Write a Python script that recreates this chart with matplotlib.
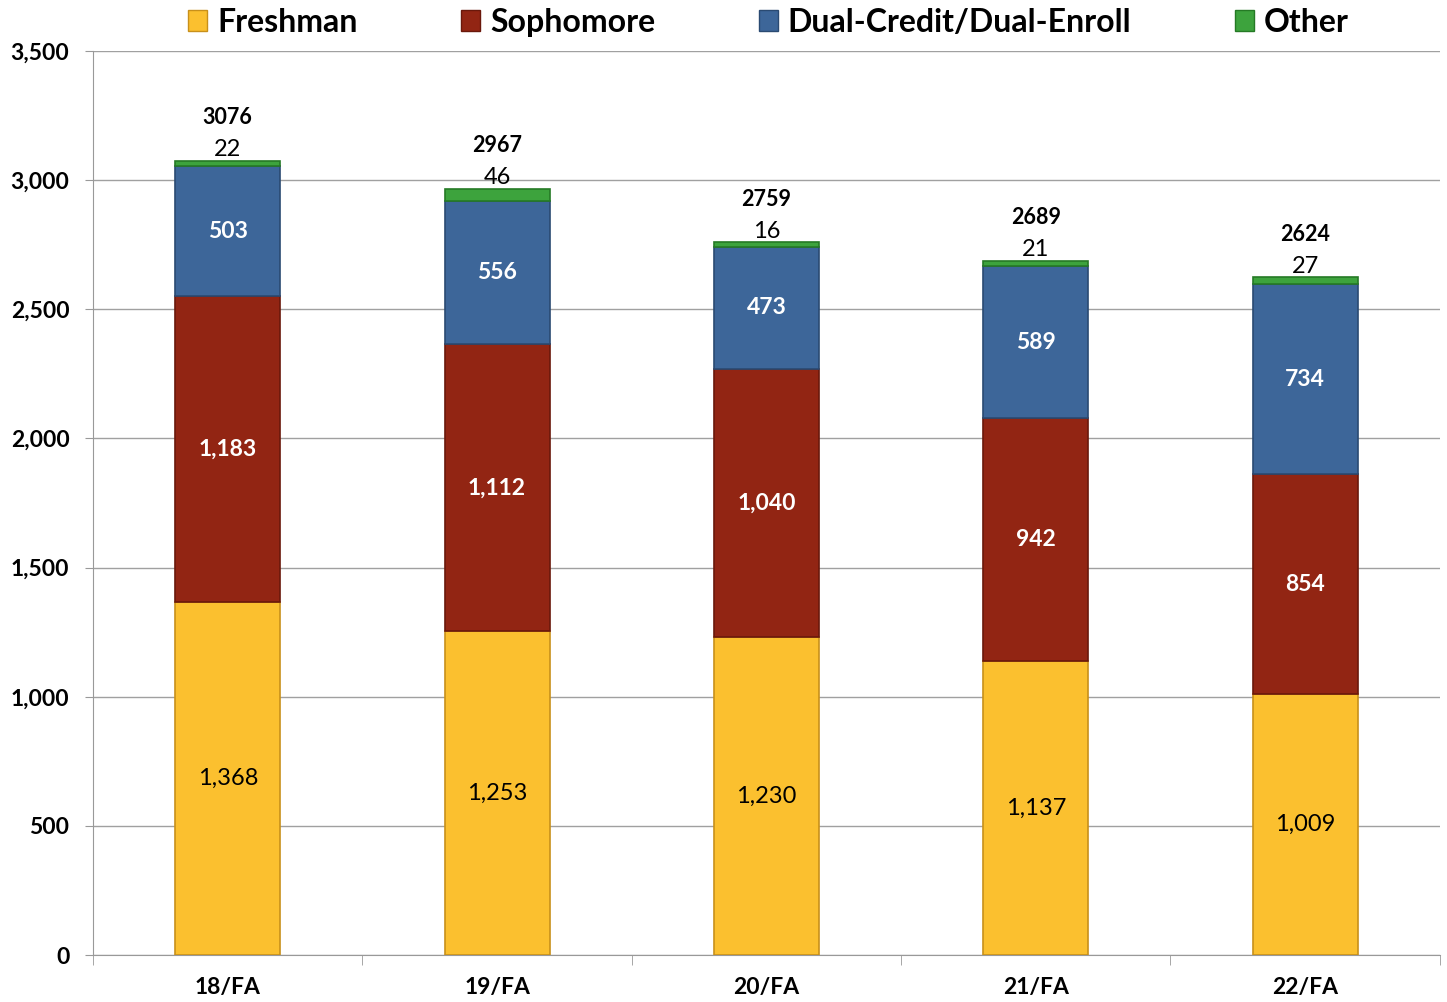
import numpy as np
import matplotlib
matplotlib.use("Agg")
import matplotlib.pyplot as plt
from matplotlib.patches import Patch

plt.rcParams['font.family'] = ['Lato', 'DejaVu Sans']

terms = ["18/FA", "19/FA", "20/FA", "21/FA", "22/FA"]
freshman = np.array([1368, 1253, 1230, 1137, 1009])
sophomore = np.array([1183, 1112, 1040, 942, 854])
dual = np.array([503, 556, 473, 589, 734])
other = np.array([22, 46, 16, 21, 27])
totals = [3076, 2967, 2759, 2689, 2624]

series = ["Freshman", "Sophomore", "Dual-Credit/Dual-Enroll", "Other"]
colors = ["#FBC02F", "#922513", "#3D6699", "#3DA33D"]
edges = ["#C8901A", "#6A180B", "#2A4A72", "#257A25"]

fig = plt.figure(figsize=(14.47, 10.02), dpi=100)
ax = fig.add_axes([0.0643, 0.0469, 0.9307, 0.9021])

x = np.arange(len(terms))
w = 0.39
bottom = np.zeros(len(terms))
for vals, c, e in zip([freshman, sophomore, dual, other], colors, edges):
    ax.bar(x, vals, w, bottom=bottom, color=c, edgecolor=e, linewidth=1.2, zorder=3)
    bottom = bottom + vals

# segment labels
for i in range(len(terms)):
    ax.text(x[i], freshman[i] / 2, f"{freshman[i]:,}", ha='center', va='center',
            fontsize=17, color='black', zorder=4)
    ax.text(x[i], freshman[i] + sophomore[i] / 2, f"{sophomore[i]:,}", ha='center',
            va='center', fontsize=16.5, color='white', fontweight='bold', zorder=4)
    ax.text(x[i], freshman[i] + sophomore[i] + dual[i] / 2, f"{dual[i]:,}", ha='center',
            va='center', fontsize=16.5, color='white', fontweight='bold', zorder=4)
    ax.annotate(f"{other[i]}", (x[i], totals[i]), xytext=(0, 8), textcoords='offset points',
                ha='center', va='center', fontsize=17, color='black')
    ax.annotate(f"{totals[i]}", (x[i], totals[i]), xytext=(0, 31), textcoords='offset points',
                ha='center', va='center', fontsize=15.5, color='black', fontweight='bold')

ax.set_xlim(-0.5, len(terms) - 0.5)
ax.set_ylim(0, 3500)
ax.set_yticks(np.arange(0, 3501, 500))
ax.set_yticklabels([f"{v:,}" for v in range(0, 3501, 500)], fontsize=16.5, fontweight='bold')
ax.set_xticks(x)
ax.set_xticklabels(terms, fontsize=16.5, fontweight='bold')
ax.tick_params(axis='x', length=0, pad=16)
ax.set_xticks(np.arange(-0.5, len(terms)), minor=True)
ax.tick_params(axis='x', which='minor', length=7, color='#999999')
ax.tick_params(axis='y', length=6, color='#999999', pad=11)
ax.yaxis.grid(True, color='#A0A0A0', linewidth=1, zorder=0)
ax.set_axisbelow(True)
for s in ['top', 'right']:
    ax.spines[s].set_visible(False)
for s in ['left', 'bottom']:
    ax.spines[s].set_color('#999999')

handles = [Patch(facecolor=c, edgecolor=e, label=n) for n, c, e in zip(series, colors, edges)]
fig.legend(handles=handles, loc='upper center', bbox_to_anchor=(0.531, 1.021), ncol=4,
           frameon=False, prop={'size': 23, 'weight': 'bold'}, handlelength=0.6,
           handleheight=0.6, handletextpad=0.3, columnspacing=3.25)

fig.savefig("out.png", dpi=100)
